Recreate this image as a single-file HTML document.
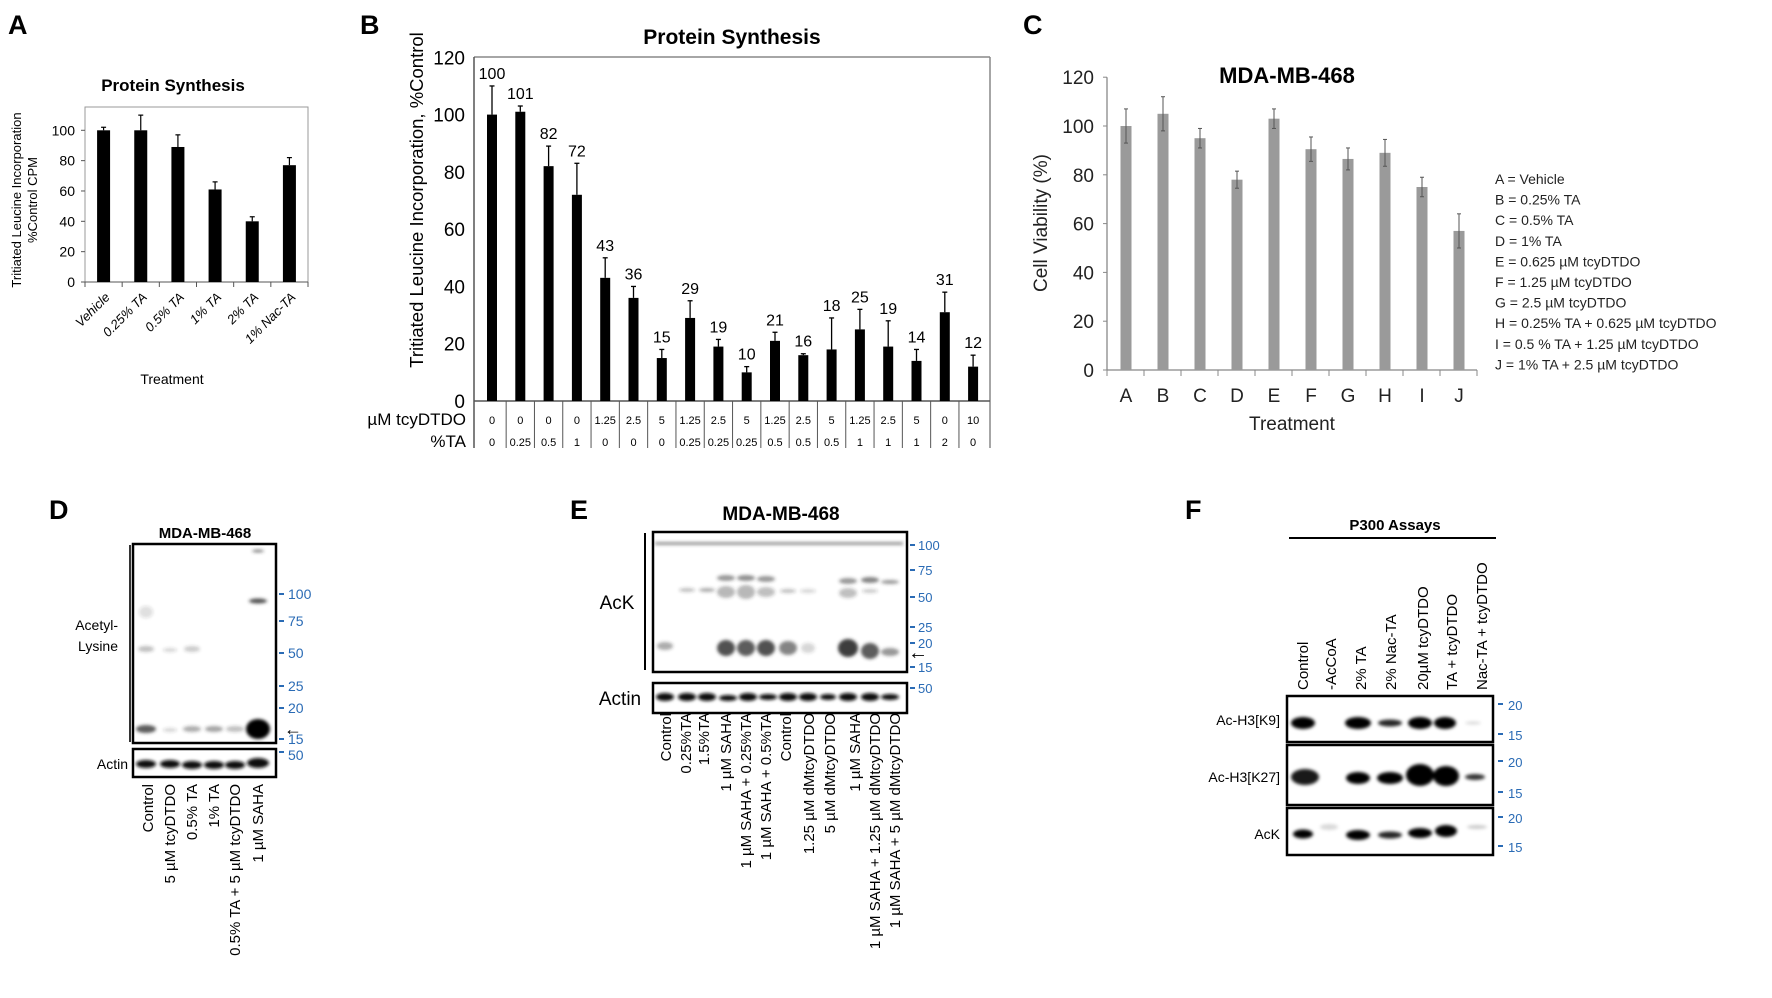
<!DOCTYPE html>
<html><head><meta charset="utf-8"><style>
html,body{margin:0;padding:0;background:#fff}
svg{display:block;font-family:"Liberation Sans",Arial,sans-serif}
</style></head><body>
<svg id="fig" width="1772" height="998" viewBox="0 0 1772 998" xmlns="http://www.w3.org/2000/svg">
<defs>
<filter id="bl" x="-50%" y="-50%" width="200%" height="200%"><feGaussianBlur stdDeviation="1.6"/></filter>
<filter id="bl2" x="-50%" y="-50%" width="200%" height="200%"><feGaussianBlur stdDeviation="3"/></filter>
</defs>
<g font-weight="bold" font-size="27" fill="#000">
<text x="8" y="34">A</text>
<text x="360" y="34">B</text>
<text x="1023" y="34">C</text>
<text x="49" y="519">D</text>
<text x="570" y="519">E</text>
<text x="1185" y="519">F</text>
</g>
<g id="chartA"></g>
<g id="chartB"></g>
<g id="chartC"></g>

<!-- Panel D -->
<g>
<text x="205" y="538" font-size="15" font-weight="bold" text-anchor="middle">MDA-MB-468</text>
<text x="118" y="630" font-size="14" text-anchor="end">Acetyl-</text>
<text x="118" y="651" font-size="14" text-anchor="end">Lysine</text>
<text x="128" y="769" font-size="14" text-anchor="end">Actin</text>
<line x1="130" y1="545" x2="130" y2="742" stroke="#333" stroke-width="2"/>
<g filter="url(#bl)" fill="#333">
<ellipse cx="146" cy="729" rx="10" ry="4" opacity="0.8"/><ellipse cx="170" cy="730" rx="7" ry="2" opacity="0.2"/>
<ellipse cx="192" cy="729" rx="9" ry="3" opacity="0.4"/><ellipse cx="214" cy="729" rx="9" ry="3" opacity="0.45"/>
<ellipse cx="235" cy="729" rx="9" ry="3" opacity="0.3"/><ellipse cx="146" cy="649" rx="8" ry="3" opacity="0.3"/>
<ellipse cx="170" cy="650" rx="7" ry="2" opacity="0.2"/><ellipse cx="192" cy="649" rx="8" ry="3" opacity="0.25"/>
<ellipse cx="146" cy="612" rx="7" ry="6" opacity="0.15"/>
<ellipse cx="258" cy="601" rx="9" ry="2.5" opacity="0.85"/><ellipse cx="258" cy="551" rx="6" ry="1.5" opacity="0.6"/>
</g>
<ellipse cx="258" cy="729" rx="12" ry="10" fill="#000" filter="url(#bl)"/>
<rect x="133" y="544" width="143" height="199" fill="none" stroke="#000" stroke-width="2.5"/>
<g filter="url(#bl)" fill="#111">
<ellipse cx="146" cy="764" rx="10" ry="4"/><ellipse cx="170" cy="764" rx="10" ry="4"/><ellipse cx="192" cy="765" rx="10" ry="4"/>
<ellipse cx="214" cy="765" rx="10" ry="4"/><ellipse cx="235" cy="765" rx="10" ry="4"/><ellipse cx="258" cy="763" rx="11" ry="5"/>
</g>
<rect x="133" y="749" width="143" height="28" fill="none" stroke="#000" stroke-width="2.5"/>
<g fill="#2a6bb5" font-size="14">
<rect x="279" y="593" width="5" height="2"/><text x="288" y="599">100</text>
<rect x="279" y="620" width="5" height="2"/><text x="288" y="626">75</text>
<rect x="279" y="652" width="5" height="2"/><text x="288" y="658">50</text>
<rect x="279" y="685" width="5" height="2"/><text x="288" y="691">25</text>
<rect x="279" y="707" width="5" height="2"/><text x="288" y="713">20</text>
<rect x="279" y="738" width="5" height="2"/><text x="288" y="744">15</text>
<rect x="279" y="751" width="5" height="2"/><text x="288" y="760">50</text>
</g>
<text x="284" y="735" font-size="18">←</text>
<g font-size="15" text-anchor="end">
<text transform="translate(153,784) rotate(-90)">Control</text>
<text transform="translate(175,784) rotate(-90)">5 µM tcyDTDO</text>
<text transform="translate(197,784) rotate(-90)">0.5% TA</text>
<text transform="translate(219,784) rotate(-90)">1% TA</text>
<text transform="translate(240,784) rotate(-90)">0.5% TA + 5 µM tcyDTDO</text>
<text transform="translate(263,784) rotate(-90)">1 µM SAHA</text>
</g>
</g>

<!-- Panel E -->
<g>
<text x="781" y="520" font-size="19" font-weight="bold" text-anchor="middle">MDA-MB-468</text>
<text x="617" y="609" font-size="19" text-anchor="middle">AcK</text>
<text x="620" y="705" font-size="19" text-anchor="middle">Actin</text>
<line x1="645" y1="533" x2="645" y2="670" stroke="#000" stroke-width="2"/>
<g filter="url(#bl)" fill="#333">
<rect x="655" y="542" width="248" height="3" opacity="0.5"/>
<ellipse cx="726" cy="578" rx="9" ry="3" opacity="0.5"/><ellipse cx="746" cy="578" rx="9" ry="3" opacity="0.55"/><ellipse cx="766" cy="579" rx="9" ry="3" opacity="0.5"/>
<ellipse cx="848" cy="581" rx="9" ry="3" opacity="0.5"/><ellipse cx="870" cy="580" rx="9" ry="3" opacity="0.6"/><ellipse cx="890" cy="582" rx="9" ry="2" opacity="0.5"/>
<ellipse cx="687" cy="590" rx="8" ry="2" opacity="0.3"/><ellipse cx="707" cy="590" rx="8" ry="2" opacity="0.4"/><ellipse cx="726" cy="592" rx="9" ry="6" opacity="0.35"/>
<ellipse cx="746" cy="592" rx="9" ry="7" opacity="0.35"/><ellipse cx="766" cy="592" rx="9" ry="5" opacity="0.3"/><ellipse cx="788" cy="591" rx="8" ry="2" opacity="0.3"/>
<ellipse cx="808" cy="591" rx="8" ry="2" opacity="0.2"/><ellipse cx="848" cy="593" rx="9" ry="5" opacity="0.3"/><ellipse cx="870" cy="591" rx="8" ry="2" opacity="0.25"/>
<ellipse cx="665" cy="646" rx="8" ry="4" opacity="0.4"/>
<ellipse cx="726" cy="648" rx="9" ry="8" opacity="0.85"/><ellipse cx="746" cy="648" rx="9" ry="8" opacity="0.8"/><ellipse cx="766" cy="648" rx="9" ry="8" opacity="0.85"/>
<ellipse cx="788" cy="648" rx="9" ry="7" opacity="0.6"/><ellipse cx="808" cy="648" rx="7" ry="5" opacity="0.2"/>
<ellipse cx="848" cy="648" rx="10" ry="9" opacity="0.95"/><ellipse cx="870" cy="651" rx="9" ry="8" opacity="0.8"/><ellipse cx="890" cy="652" rx="9" ry="4" opacity="0.5"/>
</g>
<rect x="653" y="532" width="254" height="140" fill="none" stroke="#000" stroke-width="2.5"/>
<g filter="url(#bl)" fill="#111">
<ellipse cx="665" cy="697" rx="9" ry="4"/><ellipse cx="687" cy="697" rx="9" ry="4"/><ellipse cx="707" cy="697" rx="9" ry="4"/><ellipse cx="728" cy="698" rx="9" ry="3"/>
<ellipse cx="748" cy="697" rx="9" ry="4"/><ellipse cx="768" cy="697" rx="9" ry="3"/><ellipse cx="788" cy="697" rx="9" ry="4"/><ellipse cx="808" cy="697" rx="9" ry="4"/>
<ellipse cx="828" cy="697" rx="8" ry="3"/><ellipse cx="848" cy="697" rx="9" ry="4"/><ellipse cx="870" cy="697" rx="9" ry="4"/><ellipse cx="890" cy="697" rx="9" ry="3"/>
</g>
<rect x="653" y="683" width="254" height="30" fill="none" stroke="#000" stroke-width="2.5"/>
<g fill="#2a6bb5" font-size="13">
<rect x="910" y="544" width="5" height="2"/><text x="918" y="550">100</text>
<rect x="910" y="569" width="5" height="2"/><text x="918" y="575">75</text>
<rect x="910" y="596" width="5" height="2"/><text x="918" y="602">50</text>
<rect x="910" y="626" width="5" height="2"/><text x="918" y="632">25</text>
<rect x="910" y="642" width="5" height="2"/><text x="918" y="648">20</text>
<rect x="910" y="666" width="5" height="2"/><text x="918" y="672">15</text>
<rect x="910" y="687" width="5" height="2"/><text x="918" y="693">50</text>
</g>
<text x="908" y="659" font-size="20">←</text>
<g font-size="15" text-anchor="end">
<text transform="translate(671,713) rotate(-90)">Control</text>
<text transform="translate(691,713) rotate(-90)">0.25%TA</text>
<text transform="translate(709,713) rotate(-90)">1.5%TA</text>
<text transform="translate(731,713) rotate(-90)">1 µM SAHA</text>
<text transform="translate(751,713) rotate(-90)">1 µM SAHA + 0.25%TA</text>
<text transform="translate(771,713) rotate(-90)">1 µM SAHA + 0.5%TA</text>
<text transform="translate(791,713) rotate(-90)">Control</text>
<text transform="translate(814,713) rotate(-90)">1.25 µM dMtcyDTDO</text>
<text transform="translate(835,713) rotate(-90)">5 µM dMtcyDTDO</text>
<text transform="translate(860,713) rotate(-90)">1 µM SAHA</text>
<text transform="translate(880,713) rotate(-90)">1 µM SAHA + 1.25 µM dMtcyDTDO</text>
<text transform="translate(900,713) rotate(-90)">1 µM SAHA + 5 µM dMtcyDTDO</text>
</g>
</g>

<!-- Panel F -->
<g>
<text x="1395" y="530" font-size="15" font-weight="bold" text-anchor="middle">P300 Assays</text>
<line x1="1289" y1="538" x2="1496" y2="538" stroke="#000" stroke-width="2"/>
<g font-size="15">
<text transform="translate(1308,690) rotate(-90)">Control</text>
<text transform="translate(1336,690) rotate(-90)">-AcCoA</text>
<text transform="translate(1366,690) rotate(-90)">2% TA</text>
<text transform="translate(1396,690) rotate(-90)">2% Nac-TA</text>
<text transform="translate(1428,690) rotate(-90)">20µM tcyDTDO</text>
<text transform="translate(1457,690) rotate(-90)">TA + tcyDTDO</text>
<text transform="translate(1487,690) rotate(-90)">Nac-TA + tcyDTDO</text>
</g>
<g font-size="14" text-anchor="end">
<text x="1280" y="725">Ac-H3[K9]</text>
<text x="1280" y="782">Ac-H3[K27]</text>
<text x="1280" y="839">AcK</text>
</g>
<g filter="url(#bl)" fill="#000">
<ellipse cx="1303" cy="723" rx="12" ry="6"/><ellipse cx="1358" cy="723" rx="13" ry="6"/><ellipse cx="1390" cy="723" rx="12" ry="3.5" opacity="0.85"/>
<ellipse cx="1420" cy="723" rx="12" ry="6"/><ellipse cx="1445" cy="723" rx="11" ry="6"/><ellipse cx="1473" cy="723" rx="8" ry="1.5" opacity="0.15"/>
<ellipse cx="1305" cy="777" rx="14" ry="8" opacity="0.9"/><ellipse cx="1358" cy="778" rx="12" ry="6"/><ellipse cx="1390" cy="778" rx="13" ry="6"/>
<ellipse cx="1420" cy="775" rx="14" ry="11"/><ellipse cx="1446" cy="776" rx="13" ry="10"/><ellipse cx="1475" cy="777" rx="10" ry="3" opacity="0.8"/>
<ellipse cx="1303" cy="834" rx="10" ry="4.5"/><ellipse cx="1329" cy="827" rx="9" ry="3" opacity="0.15"/><ellipse cx="1358" cy="835" rx="12" ry="5"/>
<ellipse cx="1390" cy="835" rx="12" ry="3.5" opacity="0.85"/><ellipse cx="1420" cy="833" rx="12" ry="5"/><ellipse cx="1446" cy="831" rx="11" ry="6"/>
<ellipse cx="1477" cy="827" rx="10" ry="2" opacity="0.2"/>
</g>
<g fill="none" stroke="#000" stroke-width="2.5">
<rect x="1287" y="696" width="206" height="46"/>
<rect x="1287" y="745" width="206" height="60"/>
<rect x="1287" y="808" width="206" height="47"/>
</g>
<g fill="#2a6bb5" font-size="13">
<rect x="1498" y="703" width="5" height="2"/><text x="1508" y="710">20</text>
<rect x="1498" y="733" width="5" height="2"/><text x="1508" y="740">15</text>
<rect x="1498" y="760" width="5" height="2"/><text x="1508" y="767">20</text>
<rect x="1498" y="791" width="5" height="2"/><text x="1508" y="798">15</text>
<rect x="1498" y="816" width="5" height="2"/><text x="1508" y="823">20</text>
<rect x="1498" y="845" width="5" height="2"/><text x="1508" y="852">15</text>
</g>
</g>
</svg>
<script>
const NS="http://www.w3.org/2000/svg";
function mk(parent,tag,attrs,txt){const e=document.createElementNS(NS,tag);for(const k in attrs)e.setAttribute(k,attrs[k]);if(txt!==undefined)e.textContent=txt;parent.appendChild(e);return e;}

// ---- Chart A data ----
const aCategories=["Vehicle","0.25% TA","0.5% TA","1% TA","2% TA","1% Nac-TA"];
const aValues=[100,100,89,61,40,77];
const aErrors=[2,10,8,5,3,5];
const aTicks=[0,20,40,60,80,100];

// ---- Chart B data ----
const bValues=[100,101,82,72,43,36,15,29,19,10,21,16,18,25,19,14,31,12];
const bErrors=[10,2,7,11,7,4,3,6,2.5,2,3,0.5,11,7,9,4,7,4];
const bTcy=["0","0","0","0","1.25","2.5","5","1.25","2.5","5","1.25","2.5","5","1.25","2.5","5","0","10"];
const bTA=["0","0.25","0.5","1","0","0","0","0.25","0.25","0.25","0.5","0.5","0.5","1","1","1","2","0"];
const bTicks=[0,20,40,60,80,100,120];

// ---- Chart C data ----
const cCategories=["A","B","C","D","E","F","G","H","I","J"];
const cValues=[100,105,95,78,103,90.5,86.5,89,75,57];
const cErrors=[7,7,4,3.5,4,5,4.5,5.5,4,7];
const cTicks=[0,20,40,60,80,100,120];
const cLegend=["A = Vehicle","B = 0.25% TA","C = 0.5% TA","D = 1% TA","E = 0.625 µM tcyDTDO","F = 1.25 µM tcyDTDO","G = 2.5 µM tcyDTDO","H = 0.25% TA + 0.625 µM tcyDTDO","I = 0.5 % TA + 1.25 µM tcyDTDO","J = 1% TA + 2.5 µM tcyDTDO"];

// ===== Chart A =====
(function(){
const g=document.getElementById('chartA');
const L=85,R=308,T=107,B0=282;
const step=(R-L)/aCategories.length;
const x=i=>L+(i+0.5)*step;
const y=v=>B0-v*1.517;
let t=mk(g,'text',{x:173,y:91,'font-size':17,'font-weight':'bold','text-anchor':'middle'},'Protein Synthesis');


let f=mk(g,'rect',{x:L,y:T,width:R-L,height:B0-T,fill:'none',stroke:'#999','stroke-width':1});


mk(g,'line',{x1:L,y1:B0,x2:R,y2:B0,stroke:'#555','stroke-width':1});
aTicks.forEach(v=>{
  mk(g,'line',{x1:L-4,y1:y(v),x2:L,y2:y(v),stroke:'#555'});
  const tl=mk(g,'text',{x:L-10,y:y(v)+5,'font-size':14,'text-anchor':'end'},String(v));
  
  
});
for(let i=0;i<=aCategories.length;i++)mk(g,'line',{x1:L+i*step,y1:B0,x2:L+i*step,y2:B0+5,stroke:'#555'});
aValues.forEach((v,i)=>{
  const r=mk(g,'rect',{x:x(i)-6.5,y:y(v),width:13,height:B0-y(v),fill:'#000'});
  
  
  const top=y(v+aErrors[i]);
  mk(g,'line',{x1:x(i),y1:y(v),x2:x(i),y2:top,stroke:'#000','stroke-width':1.2});
  mk(g,'line',{x1:x(i)-2.5,y1:top,x2:x(i)+2.5,y2:top,stroke:'#000','stroke-width':1.2});
  const lb=mk(g,'text',{transform:`translate(${x(i)+7},${B0+16}) rotate(-45)`,'font-size':13,'font-style':'italic','text-anchor':'end'},aCategories[i]);
  
  
});
let xt=mk(g,'text',{x:172,y:384,'font-size':14,'text-anchor':'middle'},'Treatment');


let yt=mk(g,'text',{transform:'translate(21,200) rotate(-90)','font-size':13,'text-anchor':'middle'},'Tritiated Leucine Incorporation');


let yt2=mk(g,'text',{transform:'translate(37,200) rotate(-90)','font-size':13,'text-anchor':'middle'},'%Control CPM');


})();

// ===== Chart B =====
(function(){
const g=document.getElementById('chartB');
const L=474,R=990,T=57,B0=401;
const step=28.3,x0=492;
const x=i=>x0+i*step;
const y=v=>B0-v*2.864;
let t=mk(g,'text',{x:732,y:44,'font-size':21,'font-weight':'bold','text-anchor':'middle'},'Protein Synthesis');


mk(g,'line',{x1:L,y1:T,x2:R,y2:T,stroke:'#888','stroke-width':1.5});
mk(g,'line',{x1:R,y1:T,x2:R,y2:448,stroke:'#888','stroke-width':1.5});
mk(g,'line',{x1:L,y1:T,x2:L,y2:448,stroke:'#555','stroke-width':1.5});
mk(g,'line',{x1:L,y1:B0,x2:R,y2:B0,stroke:'#555','stroke-width':1.5});
bTicks.forEach(v=>{
  const tl=mk(g,'text',{x:465,y:y(v)+7,'font-size':19,'text-anchor':'end'},String(v));
  
  
});
bValues.forEach((v,i)=>{
  const r=mk(g,'rect',{x:x(i)-5,y:y(v),width:10,height:B0-y(v),fill:'#000'});
  
  
  const top=y(v+bErrors[i]);
  mk(g,'line',{x1:x(i),y1:y(v),x2:x(i),y2:top,stroke:'#000','stroke-width':1.3});
  mk(g,'line',{x1:x(i)-2.5,y1:top,x2:x(i)+2.5,y2:top,stroke:'#000','stroke-width':1.3});
  const vl=mk(g,'text',{x:x(i),y:top-7,'font-size':16,'text-anchor':'middle'},String(v));
  
  
  const c1=mk(g,'text',{x:x(i),y:424,'font-size':11,'text-anchor':'middle'},bTcy[i]);
  
  
  const c2=mk(g,'text',{x:x(i),y:446,'font-size':11,'text-anchor':'middle'},bTA[i]);
  
  
  if(i>0)mk(g,'line',{x1:x(i)-step/2,y1:B0,x2:x(i)-step/2,y2:448,stroke:'#555','stroke-width':1});
});
let r1=mk(g,'text',{x:466,y:425,'font-size':17,'text-anchor':'end'},'µM tcyDTDO');


let r2=mk(g,'text',{x:466,y:447,'font-size':17,'text-anchor':'end'},'%TA');


let yt=mk(g,'text',{transform:'translate(423,200) rotate(-90)','font-size':18.5,'text-anchor':'middle'},'Tritiated Leucine Incorporation, %Control');


})();

// ===== Chart C =====
(function(){
const g=document.getElementById('chartC');
const L=1107,R=1477,B0=370;
const step=37,x0=1126;
const x=i=>x0+i*step;
const y=v=>B0-v*2.44;
let t=mk(g,'text',{x:1287,y:83,'font-size':22,'font-weight':'bold','text-anchor':'middle'},'MDA-MB-468');


mk(g,'line',{x1:L,y1:y(120),x2:L,y2:B0,stroke:'#888','stroke-width':1.3});
mk(g,'line',{x1:L,y1:B0,x2:R,y2:B0,stroke:'#888','stroke-width':1.3});
cTicks.forEach(v=>{
  mk(g,'line',{x1:L-4,y1:y(v),x2:L,y2:y(v),stroke:'#888'});
  const tl=mk(g,'text',{x:1094,y:y(v)+7,'font-size':19,'text-anchor':'end','fill':'#222'},String(v));
  
  
});
for(let i=0;i<=cCategories.length;i++)mk(g,'line',{x1:L+i*step,y1:B0,x2:L+i*step,y2:B0+6,stroke:'#888'});
cValues.forEach((v,i)=>{
  const r=mk(g,'rect',{x:x(i)-5.5,y:y(v),width:11,height:B0-y(v),fill:'#9a9a9a'});
  
  
  const top=y(v+cErrors[i]),bot=y(v-cErrors[i]);
  mk(g,'line',{x1:x(i),y1:bot,x2:x(i),y2:top,stroke:'#555','stroke-width':1});
  mk(g,'line',{x1:x(i)-2,y1:top,x2:x(i)+2,y2:top,stroke:'#555','stroke-width':1});
  mk(g,'line',{x1:x(i)-2,y1:bot,x2:x(i)+2,y2:bot,stroke:'#555','stroke-width':1});
  const lb=mk(g,'text',{x:x(i),y:402,'font-size':19,'text-anchor':'middle','fill':'#222'},cCategories[i]);
  
  
});
let xt=mk(g,'text',{x:1292,y:430,'font-size':19,'text-anchor':'middle','fill':'#222'},'Treatment');


let yt=mk(g,'text',{transform:'translate(1047,223) rotate(-90)','font-size':19,'text-anchor':'middle','fill':'#222'},'Cell Viability (%)');


cLegend.forEach((s,i)=>{
  const l=mk(g,'text',{x:1495,y:184+i*20.6,'font-size':14,'fill':'#222'},s);
  
  
});
})();
</script>
</body></html>
